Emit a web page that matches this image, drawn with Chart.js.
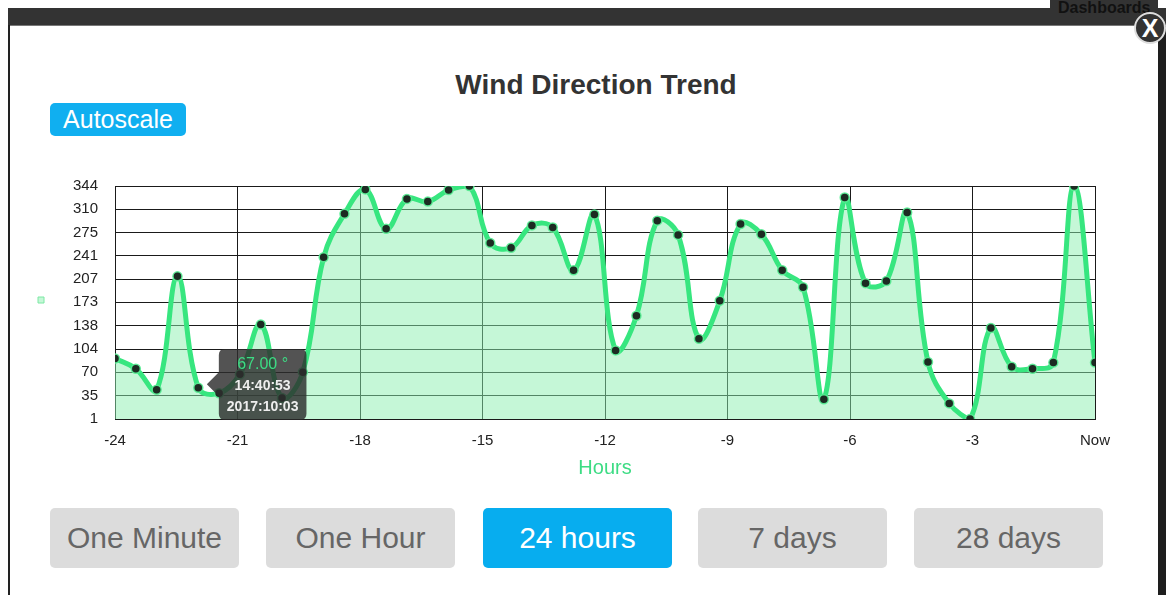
<!DOCTYPE html>
<html>
<head>
<meta charset="utf-8">
<title>Wind Direction Trend</title>
<script src="https://cdn.jsdelivr.net/npm/chart.js@4.4.0/dist/chart.umd.min.js"></script>
<style>
  body { margin: 0; width: 1166px; height: 595px; overflow: hidden; background: #fff;
         font-family: Arial, "Liberation Sans", sans-serif; position: relative; }
  .topbar { position: absolute; left: 8px; top: 8px; width: 1158px; height: 17px; background: #333;
            border-bottom: 1px solid #777; }
  .dash { position: absolute; left: 1042px; top: -8px; padding: 0 8px; line-height: 16px; background: #333;
          font-size: 16px; font-weight: bold; color: #111; }
  .leftedge { position: absolute; left: 8px; top: 25px; width: 2px; height: 570px; background: #222; }
  .rightedge { position: absolute; left: 1158px; top: 26px; width: 8px; height: 569px; background: #1e1e1e; }
  .close { position: absolute; left: 1134px; top: 12px; width: 28px; height: 28px; border-radius: 50%;
           background: #333; border: 2px solid #ddd; color: #fff; font-size: 25px; font-weight: bold;
           text-align: center; line-height: 28px; }
  h1 { position: absolute; left: 0; top: 69px; width: 1192px; margin: 0; text-align: center;
       font-size: 28px; line-height: 32px; color: #333; }
  .autoscale { position: absolute; left: 50px; top: 103px; width: 136px; height: 33px; border-radius: 5px;
               background: #10aff0; color: #fff; font-size: 25px; line-height: 33px; text-align: center; }
  #wrap { position: absolute; left: 0; top: 160px; }
  .btn { position: absolute; top: 508px; width: 189px; height: 60px; border-radius: 5px; background: #dcdcdc;
         color: #666; font-size: 30px; line-height: 60px; text-align: center; }
  .btn.on { background: #07adef; color: #fff; }
</style>
</head>
<body>
<div class="topbar"><span class="dash">Dashboards</span></div>
<div class="leftedge"></div>
<div class="rightedge"></div>
<div class="close">X</div>
<h1>Wind Direction Trend</h1>
<div class="autoscale">Autoscale</div>
<div id="wrap"><canvas id="windChart" width="1140" height="330"></canvas></div>
<div class="btn" style="left:50px">One Minute</div>
<div class="btn" style="left:266px">One Hour</div>
<div class="btn on" style="left:483px">24 hours</div>
<div class="btn" style="left:698px">7 days</div>
<div class="btn" style="left:914px">28 days</div>

<script>
// hours before now for each reading
const hours = [-24.00, -23.49, -22.98, -22.47, -21.96, -21.45, -20.94, -20.43, -19.91, -19.40,
  -18.89, -18.38, -17.87, -17.36, -16.85, -16.34, -15.83, -15.32, -14.81, -14.30,
  -13.79, -13.28, -12.77, -12.26, -11.74, -11.23, -10.72, -10.21, -9.70, -9.19,
  -8.68, -8.17, -7.66, -7.15, -6.64, -6.13, -5.62, -5.11, -4.60, -4.09,
  -3.57, -3.06, -2.55, -2.04, -1.53, -1.02, -0.51, 0.00];
// wind direction in degrees
const direction = [90, 75, 44, 211, 47, 39, 67, 140, 32, 70,
  239, 303, 339, 281, 325, 321, 338, 344, 260, 253,
  286, 283, 220, 302, 102, 153, 293, 272, 119, 175,
  288, 273, 220, 195, 30, 327, 201, 204, 305, 85,
  24, 1, 135, 78, 75, 84, 344, 84];

const yTicks = [1, 35, 70, 104, 138, 173, 207, 241, 275, 310, 344];
const xTicks = [-24, -21, -18, -15, -12, -9, -6, -3, 0];
const xTickLabels = ['-24', '-21', '-18', '-15', '-12', '-9', '-6', '-3', 'Now'];

// reading shown in the tooltip
const tipIndex = 6;
const tipTime = '14:40:53';
const tipDate = '2017:10:03';
// where the mouse sits (hours, degrees)
const mouseAt = { hour: -21.8, deg: 52 };

const green = '#37e67f';
const gridColor = '#1a1a1a';

Chart.defaults.font.family = 'Arial, "Liberation Sans", sans-serif';
Chart.defaults.color = '#222';

// tooltip follows the mouse instead of the point
Chart.Tooltip.positioners.mouse = function (items, eventPosition) {
  return eventPosition;
};

var points = direction.map((v, i) => ({ x: hours[i], y: v }));

var ctx = document.getElementById('windChart').getContext('2d');
var windChart = new Chart(ctx, {
  type: 'line',
  data: {
    datasets: [{
      label: '',
      data: points,
      borderColor: green,
      borderWidth: 5,
      backgroundColor: 'rgba(140, 240, 175, 0.5)',
      fill: 'origin',
      tension: 0.4,
      pointRadius: 4.5,
      pointBackgroundColor: '#1c2b22',
      pointBorderColor: 'rgba(90, 240, 150, 0.9)',
      pointBorderWidth: 1.5
    }]
  },
  options: {
    responsive: false,
    animation: false,
    devicePixelRatio: 1,
    events: [],
    layout: { padding: { left: 28, right: 45, top: 25, bottom: 17 } },
    scales: {
      x: {
        type: 'linear',
        min: -24,
        max: 0,
        afterBuildTicks: s => { s.ticks = xTicks.map(v => ({ value: v })); },
        ticks: {
          padding: 13,
          font: { size: 15 },
          maxRotation: 0,
          callback: (v, i) => xTickLabels[i]
        },
        grid: { color: gridColor, drawTicks: false },
        border: { color: gridColor },
        title: {
          display: true, text: 'Hours', color: '#3ddc84',
          font: { size: 20, lineHeight: 0.5 }, padding: { top: 0, bottom: 0 }
        }
      },
      y: {
        min: 1,
        max: 344,
        afterBuildTicks: s => { s.ticks = yTicks.map(v => ({ value: v })); },
        afterFit: s => { s.width = 55; },
        ticks: { padding: 17, font: { size: 15 } },
        grid: { color: gridColor, drawTicks: false },
        border: { color: gridColor }
      }
    },
    plugins: {
      legend: {
        position: 'left',
        align: 'start',
        // empty title only pushes the swatch down beside the middle of the plot
        title: { display: true, text: '', font: { size: 10, lineHeight: 1 }, padding: { top: 0, bottom: 89 } },
        labels: {
          boxWidth: 6,
          boxHeight: 6,
          padding: 10,
          generateLabels: () => [{
            text: '', fillStyle: '#c5f7d7', strokeStyle: '#7de8a4', lineWidth: 1, datasetIndex: 0
          }]
        }
      },
      tooltip: {
        position: 'mouse',
        xAlign: 'left',
        yAlign: 'center',
        caretSize: 12,
        caretPadding: 2,
        cornerRadius: 6,
        backgroundColor: 'rgba(45, 45, 45, 0.82)',
        padding: { top: 6, bottom: 4, left: 8, right: 8 },
        displayColors: false,
        titleAlign: 'center',
        bodyAlign: 'center',
        titleColor: '#3ddc84',
        titleFont: { size: 16, weight: 'normal' },
        titleMarginBottom: 4,
        bodyColor: '#eee',
        bodyFont: { size: 14, weight: 'bold' },
        bodySpacing: 4,
        callbacks: {
          title: items => items[0].parsed.y.toFixed(2) + ' °',
          label: () => [tipTime, tipDate]
        }
      }
    }
  }
});

// show the tooltip for the hovered reading
windChart.tooltip.setActiveElements([{ datasetIndex: 0, index: tipIndex }], {
  x: windChart.scales.x.getPixelForValue(mouseAt.hour),
  y: windChart.scales.y.getPixelForValue(mouseAt.deg)
});
windChart.update();
</script>
</body>
</html>
